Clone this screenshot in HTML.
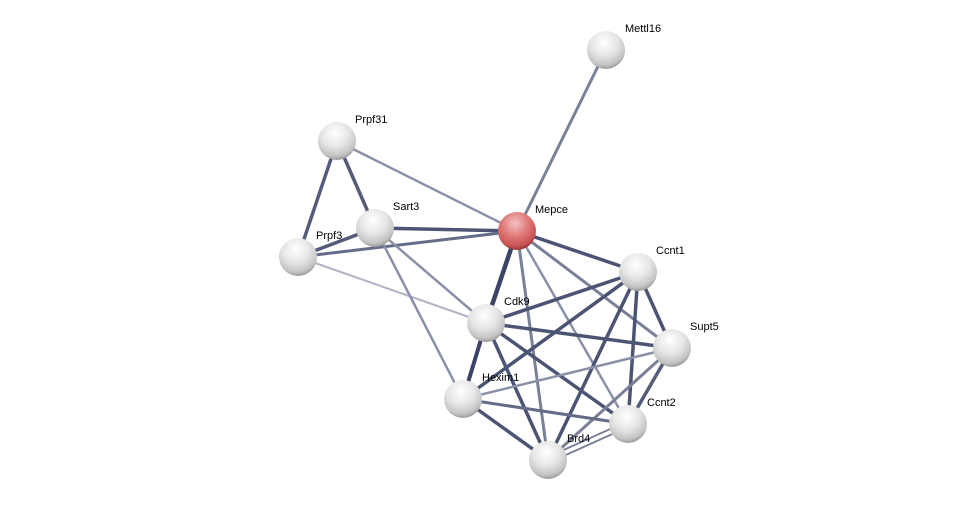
<!DOCTYPE html>
<html><head><meta charset="utf-8"><style>
html,body{margin:0;padding:0;background:#fff;}
svg{display:block;}
text{font-family:"Liberation Sans",sans-serif;font-size:11px;fill:#000;}
</style></head><body>
<svg width="975" height="505" viewBox="0 0 975 505" xmlns="http://www.w3.org/2000/svg">
<defs>
<radialGradient id="g" cx="45%" cy="30%" r="70%">
<stop offset="0" stop-color="#ffffff"/><stop offset="0.5" stop-color="#e6e6e6"/><stop offset="0.85" stop-color="#c4c4c4"/><stop offset="1" stop-color="#9a9a9a"/>
</radialGradient>
<radialGradient id="r" cx="45%" cy="30%" r="70%">
<stop offset="0" stop-color="#f6c2c2"/><stop offset="0.5" stop-color="#e07878"/><stop offset="0.85" stop-color="#c85454"/><stop offset="1" stop-color="#9a3434"/>
</radialGradient>
</defs>
<g stroke-linecap="round">
<line x1="606" y1="50" x2="517" y2="231" stroke="#7a8098" stroke-width="3"/>
<line x1="337" y1="141" x2="517" y2="231" stroke="#8a90a8" stroke-width="2.5"/>
<line x1="337" y1="141" x2="375" y2="228" stroke="#545c7a" stroke-width="3.5"/>
<line x1="337" y1="141" x2="298" y2="257" stroke="#545c7a" stroke-width="3.5"/>
<line x1="375" y1="228" x2="298" y2="257" stroke="#545c7a" stroke-width="3.5"/>
<line x1="375" y1="228" x2="517" y2="231" stroke="#4c5474" stroke-width="3.5"/>
<line x1="298" y1="257" x2="517" y2="231" stroke="#646c88" stroke-width="3"/>
<line x1="298" y1="257" x2="486" y2="323" stroke="#b0b4c6" stroke-width="2"/>
<line x1="375" y1="228" x2="486" y2="323" stroke="#8a90a8" stroke-width="2.5"/>
<line x1="375" y1="228" x2="463" y2="399" stroke="#8a90a8" stroke-width="2.5"/>
<line x1="517" y1="231" x2="638" y2="272" stroke="#4c5474" stroke-width="3.5"/>
<line x1="517" y1="231" x2="486" y2="323" stroke="#3c4466" stroke-width="4.5"/>
<line x1="517" y1="231" x2="548" y2="460" stroke="#7a8098" stroke-width="3"/>
<line x1="517" y1="231" x2="628" y2="424" stroke="#8a90a8" stroke-width="2.5"/>
<line x1="517" y1="231" x2="672" y2="348" stroke="#7a8098" stroke-width="3"/>
<line x1="486" y1="323" x2="638" y2="272" stroke="#4c5474" stroke-width="3.5"/>
<line x1="486" y1="323" x2="672" y2="348" stroke="#4c5474" stroke-width="3.5"/>
<line x1="486" y1="323" x2="628" y2="424" stroke="#4c5474" stroke-width="3.5"/>
<line x1="486" y1="323" x2="463" y2="399" stroke="#3c4466" stroke-width="4"/>
<line x1="486" y1="323" x2="548" y2="460" stroke="#4c5474" stroke-width="3.5"/>
<line x1="638" y1="272" x2="672" y2="348" stroke="#4c5474" stroke-width="3.5"/>
<line x1="638" y1="272" x2="628" y2="424" stroke="#4c5474" stroke-width="3.5"/>
<line x1="638" y1="272" x2="548" y2="460" stroke="#4c5474" stroke-width="3.5"/>
<line x1="638" y1="272" x2="463" y2="399" stroke="#4c5474" stroke-width="3.5"/>
<line x1="672" y1="348" x2="463" y2="399" stroke="#8a90a8" stroke-width="2.5"/>
<line x1="672" y1="348" x2="628" y2="424" stroke="#545c7a" stroke-width="3.5"/>
<line x1="672" y1="348" x2="548" y2="460" stroke="#7a8098" stroke-width="3"/>
<line x1="463" y1="399" x2="628" y2="424" stroke="#646c88" stroke-width="3"/>
<line x1="463" y1="399" x2="548" y2="460" stroke="#4c5474" stroke-width="3.5"/>
<line x1="548" y1="457" x2="628" y2="421" stroke="#7a8098" stroke-width="2"/>
<line x1="548" y1="463" x2="628" y2="427" stroke="#7a8098" stroke-width="2"/>
</g>
<g>
<circle cx="606" cy="50" r="19" fill="url(#g)"/>
<circle cx="337" cy="141" r="19" fill="url(#g)"/>
<circle cx="375" cy="228" r="19" fill="url(#g)"/>
<circle cx="298" cy="257" r="19" fill="url(#g)"/>
<circle cx="517" cy="231" r="19" fill="url(#r)"/>
<circle cx="638" cy="272" r="19" fill="url(#g)"/>
<circle cx="486" cy="323" r="19" fill="url(#g)"/>
<circle cx="672" cy="348" r="19" fill="url(#g)"/>
<circle cx="463" cy="399" r="19" fill="url(#g)"/>
<circle cx="628" cy="424" r="19" fill="url(#g)"/>
<circle cx="548" cy="460" r="19" fill="url(#g)"/>
</g>
<text x="625" y="32">Mettl16</text>
<text x="355" y="123">Prpf31</text>
<text x="393" y="210">Sart3</text>
<text x="316" y="239">Prpf3</text>
<text x="535" y="213">Mepce</text>
<text x="656" y="254">Ccnt1</text>
<text x="504" y="305">Cdk9</text>
<text x="690" y="330">Supt5</text>
<text x="482" y="381">Hexim1</text>
<text x="647" y="406">Ccnt2</text>
<text x="567" y="442">Brd4</text>
</svg>
</body></html>
